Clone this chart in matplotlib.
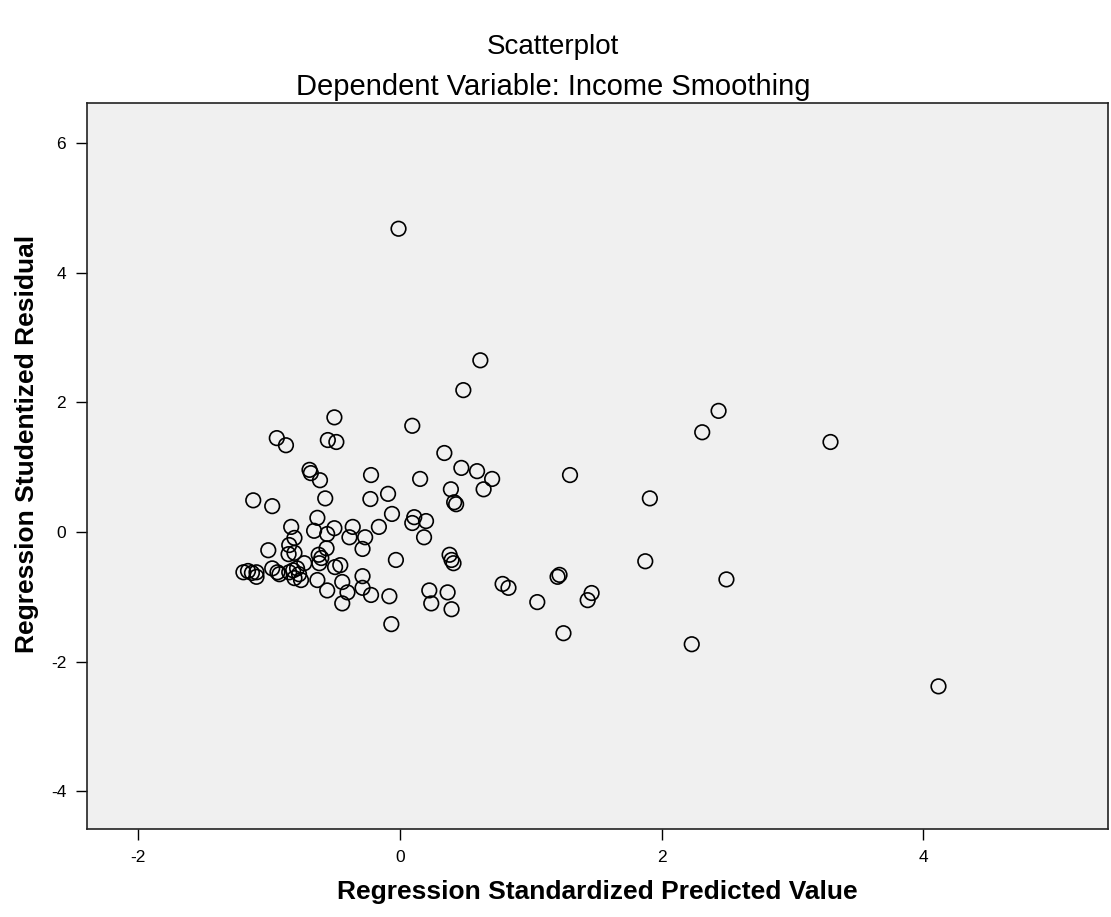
import numpy as np
import matplotlib
matplotlib.use('Agg')
import matplotlib.pyplot as plt

plt.rcParams['font.family'] = ['Liberation Sans', 'DejaVu Sans']
plt.rcParams['axes.unicode_minus'] = False

# Regression standardized predicted value (x) / studentized residual (y)
pred = [
    -0.01, 0.615, 0.485, 2.435, 2.31, 3.29, -0.50, -0.94, -0.87, -0.55,
    -0.485, 0.095, 0.34, -0.69, -0.68, -0.61, -0.22, 0.47, 0.59, 0.705,
    0.64, 1.30, 0.155, 0.39, 0.415, 0.43, 1.91, -1.12, -0.975, -0.57,
    -0.225, -0.09, -0.06, 0.11, 0.095, 0.20, 0.185, -0.63, -0.83, -0.655,
    -0.555, -0.50, -0.36, -0.16, -0.385, -0.265, -0.805, -0.845, -1.005, -0.56,
    -0.285, -0.03, -0.85, -0.805, -0.73, -0.62, -0.60, -0.615, -1.195, -1.16,
    -1.13, -1.095, -1.095, -0.975, -0.935, -0.92, -0.845, -0.815, -0.785, -0.77,
    -0.805, -0.755, -0.63, -0.555, -0.495, -0.455, -0.44, -0.40, -0.44, -0.285,
    -0.285, -0.22, -0.08, -0.065, 0.38, 0.395, 0.41, 0.225, 0.24, 0.365,
    0.395, 0.785, 0.83, 1.205, 1.22, 1.05, 1.435, 1.465, 1.25, 1.875,
    2.495, 2.23, 4.115,
]
resid = [
    4.68, 2.65, 2.19, 1.87, 1.54, 1.39, 1.77, 1.45, 1.34, 1.42,
    1.39, 1.64, 1.22, 0.96, 0.91, 0.80, 0.88, 0.99, 0.94, 0.82,
    0.66, 0.88, 0.82, 0.66, 0.46, 0.43, 0.52, 0.49, 0.40, 0.52,
    0.51, 0.59, 0.28, 0.23, 0.14, 0.17, -0.08, 0.22, 0.08, 0.02,
    -0.03, 0.06, 0.08, 0.08, -0.08, -0.08, -0.09, -0.20, -0.28, -0.25,
    -0.26, -0.43, -0.34, -0.32, -0.48, -0.35, -0.40, -0.48, -0.62, -0.60,
    -0.63, -0.62, -0.69, -0.56, -0.62, -0.65, -0.62, -0.59, -0.56, -0.65,
    -0.71, -0.74, -0.74, -0.90, -0.54, -0.51, -0.77, -0.93, -1.10, -0.68,
    -0.86, -0.97, -0.99, -1.42, -0.35, -0.43, -0.48, -0.90, -1.10, -0.93,
    -1.19, -0.80, -0.86, -0.69, -0.66, -1.08, -1.05, -0.94, -1.56, -0.45,
    -0.73, -1.73, -2.38,
]

xticks = [-2, 0, 2, 4]
yticks = [-4, -2, 0, 2, 4, 6]

fig = plt.figure(figsize=(11.11, 9.17), dpi=100)
ax = fig.add_axes([0.0783, 0.0960, 0.9190, 0.7917])
ax.set_facecolor('#f0f0f0')

ax.scatter(pred, resid, s=110, facecolors='none', edgecolors='black', linewidths=1.2)

ax.set_xlim(-2.39, 5.41)
ax.set_ylim(-4.58, 6.62)
ax.set_xticks(xticks)
ax.set_yticks(yticks)
ax.tick_params(direction='out', length=8, width=1, labelsize=12.5, pad=7, top=False, right=False)
for sp in ax.spines.values():
    sp.set_linewidth(1.2)
    sp.set_color('#222222')

ax.set_xlabel('Regression Standardized Predicted Value', fontsize=19, fontweight='bold', labelpad=11)
ax.set_ylabel('Regression Studentized Residual', fontsize=19, fontweight='bold')
ax.yaxis.set_label_coords(-0.047, 0.531)

fig.text(0.498, 0.949, 'Scatterplot', ha='center', va='center', fontsize=20)
fig.text(0.498, 0.905, 'Dependent Variable: Income Smoothing', ha='center', va='center', fontsize=21)

fig.savefig('out.png', dpi=100)
